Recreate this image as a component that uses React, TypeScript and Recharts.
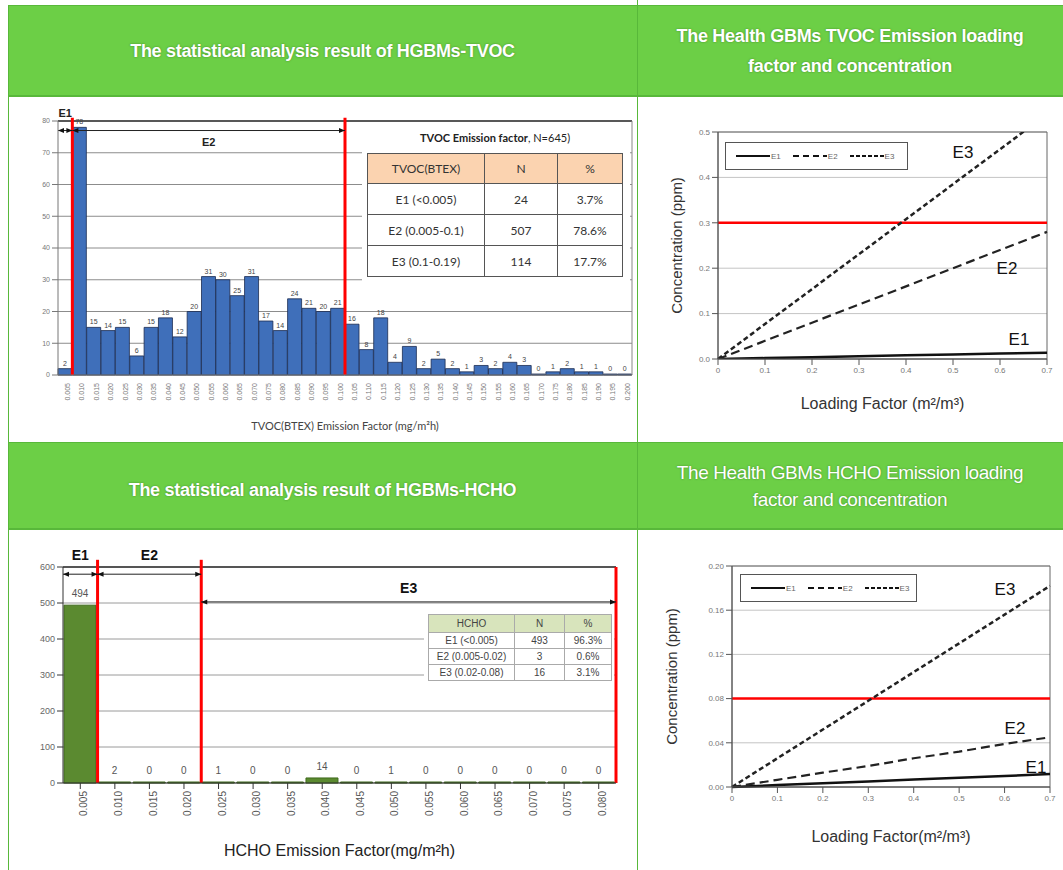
import React from "react";
import {
  BarChart,
  Bar,
  LineChart,
  Line,
  XAxis,
  YAxis,
  CartesianGrid,
  LabelList,
  ReferenceLine,
  ReferenceArea,
} from "recharts";

// TVOC histogram (emission factor bins, mg/m2h)
const tvocBins = [
  "0.005", "0.010", "0.015", "0.020", "0.025", "0.030", "0.035", "0.040", "0.045", "0.050",
  "0.055", "0.060", "0.065", "0.070", "0.075", "0.080", "0.085", "0.090", "0.095", "0.100",
  "0.105", "0.110", "0.115", "0.120", "0.125", "0.130", "0.135", "0.140", "0.145", "0.150",
  "0.155", "0.160", "0.165", "0.170", "0.175", "0.180", "0.185", "0.190", "0.195", "0.200",
];
const tvocCounts = [
  2, 78, 15, 14, 15, 6, 15, 18, 12, 20, 31, 30, 25, 31, 17, 14, 24, 21, 20, 21,
  16, 8, 18, 4, 9, 2, 5, 2, 1, 3, 2, 4, 3, 0, 1, 2, 1, 1, 0, 0,
];
const tvocTicks = [0, 10, 20, 30, 40, 50, 60, 70, 80];

// HCHO histogram
const hchoBins = [
  "0.005", "0.010", "0.015", "0.020", "0.025", "0.030", "0.035", "0.040",
  "0.045", "0.050", "0.055", "0.060", "0.065", "0.070", "0.075", "0.080",
];
const hchoCounts = [494, 2, 0, 0, 1, 0, 0, 14, 0, 1, 0, 0, 0, 0, 0, 0];
const hchoTicks = [0, 100, 200, 300, 400, 500, 600];

// loading factor vs concentration
const loading = [0, 0.1, 0.2, 0.3, 0.4, 0.5, 0.6, 0.7];
const tvocE1 = [0, 0.002, 0.004, 0.006, 0.008, 0.010, 0.012, 0.014];
const tvocE2 = [0, 0.04, 0.08, 0.12, 0.16, 0.20, 0.24, 0.28];
const tvocE3 = [0, 0.077, 0.154, 0.231, 0.308, 0.385, 0.462, 0.539];
const hchoE1 = [0, 0.0017, 0.0034, 0.005, 0.0067, 0.0084, 0.010, 0.0117];
const hchoE2 = [0, 0.0065, 0.013, 0.019, 0.026, 0.032, 0.039, 0.045];
const hchoE3 = [0, 0.026, 0.052, 0.078, 0.104, 0.130, 0.156, 0.182];
const loadTicks = [0, 0.1, 0.2, 0.3, 0.4, 0.5, 0.6, 0.7];
const tvocConcTicks = [0, 0.1, 0.2, 0.3, 0.4, 0.5];
const hchoConcTicks = [0, 0.04, 0.08, 0.12, 0.16, 0.2];

const tvocTable = [
  ["E1 (<0.005)", "24", "3.7%"],
  ["E2 (0.005-0.1)", "507", "78.6%"],
  ["E3 (0.1-0.19)", "114", "17.7%"],
];
const hchoTable = [
  ["E1 (<0.005)", "493", "96.3%"],
  ["E2 (0.005-0.02)", "3", "0.6%"],
  ["E3 (0.02-0.08)", "16", "3.1%"],
];

const tvocData = tvocBins.map((bin, i) => ({ bin, count: tvocCounts[i] }));
const hchoData = hchoBins.map((bin, i) => ({ bin, count: hchoCounts[i] }));
const tvocLoad = loading.map((lf, i) => ({ lf, e1: tvocE1[i], e2: tvocE2[i], e3: tvocE3[i] }));
const hchoLoad = loading.map((lf, i) => ({ lf, e1: hchoE1[i], e2: hchoE2[i], e3: hchoE3[i] }));

const GREEN = "#6ccf46";
const ARIAL = '"Liberation Sans", Arial, sans-serif';

// double headed arrow used for the E1/E2/E3 ranges
const Arrow = (p: any) => {
  const { x1, y1, x2, y2 } = p;
  const h = 2.5;
  return (
    <g>
      <line x1={x1} y1={y1} x2={x2} y2={y2} stroke="#222" strokeWidth={1} />
      <polygon points={`${x1},${y1} ${x1 + 6},${y1 - h} ${x1 + 6},${y1 + h}`} fill="#111" />
      <polygon points={`${x2},${y2} ${x2 - 6},${y2 - h} ${x2 - 6},${y2 + h}`} fill="#111" />
    </g>
  );
};

const fmtLoad = (v: number) => (v === 0 ? "0" : v.toFixed(1));

const Header = ({ left, top, width, height, lines, bold, size, pad }: any) => (
  <div
    style={{
      position: "absolute",
      left,
      top,
      width,
      height,
      background: GREEN,
      borderTop: "1px solid #58b83a",
      borderBottom: "2px solid #58b83a",
      boxSizing: "border-box",
      display: "flex",
      flexDirection: "column",
      alignItems: "center",
      justifyContent: "center",
      paddingTop: pad || 0,
      color: "#fff",
      fontFamily: ARIAL,
      fontWeight: bold ? 700 : 400,
      fontSize: size,
      lineHeight: bold ? "30px" : "27px",
      textShadow: "0 0 2px rgba(40,90,20,0.6)",
      letterSpacing: bold ? -0.3 : -0.4,
    }}
  >
    {lines.map((l: string) => (
      <div key={l}>{l}</div>
    ))}
  </div>
);

const LegendBox = ({ left, top, width }: any) => {
  const items = [
    { name: "E1", dash: undefined },
    { name: "E2", dash: "6 4" },
    { name: "E3", dash: "4 2" },
  ];
  return (
    <div
      style={{
        position: "absolute",
        left,
        top,
        width,
        height: 28,
        border: "1px solid #555",
        background: "#fff",
        boxSizing: "border-box",
        display: "flex",
        alignItems: "center",
        paddingLeft: 10,
        fontFamily: ARIAL,
        fontSize: 8,
        color: "#666",
      }}
    >
      {items.map((it) => (
        <div key={it.name} style={{ display: "flex", alignItems: "center", marginRight: 12 }}>
          <svg width={34} height={6}>
            <line x1={0} y1={3} x2={34} y2={3} stroke="#111" strokeWidth={2} strokeDasharray={it.dash} />
          </svg>
          <span style={{ marginLeft: 1 }}>{it.name}</span>
        </div>
      ))}
    </div>
  );
};

const Tag = ({ x, y, text, size }: any) => (
  <div
    style={{
      position: "absolute",
      left: x,
      top: y,
      transform: "translate(-50%, -50%)",
      fontFamily: ARIAL,
      fontSize: size || 17,
      color: "#111",
    }}
  >
    {text}
  </div>
);

export default function App() {
  const cell = (extra: any = {}) => ({
    border: "1px solid #555",
    textAlign: "center" as const,
    padding: 0,
    ...extra,
  });
  const hcell = (extra: any = {}) => ({
    border: "1px solid #aaa",
    textAlign: "center" as const,
    padding: 0,
    ...extra,
  });

  return (
    <div
      style={{
        position: "absolute",
        left: 0,
        top: 0,
        width: 1063,
        height: 870,
        background: "#fff",
        overflow: "hidden",
        fontFamily: ARIAL,
      }}
    >
      {/* header bands */}
      <Header left={8} top={5} width={629} height={92} bold size={18} lines={["The statistical analysis result of HGBMs-TVOC"]} />
      <Header left={637} top={5} width={426} height={92} bold size={18} lines={["The Health GBMs TVOC Emission loading", "factor and concentration"]} />
      <Header left={8} top={442} width={629} height={88} bold size={18} pad={9} lines={["The statistical analysis result of HGBMs-HCHO"]} />
      <Header left={637} top={442} width={426} height={88} size={19} lines={["The Health GBMs HCHO Emission loading", "factor and concentration"]} />
      <div style={{ position: "absolute", left: 8, top: 5, width: 1, height: 865, background: "#58b83a" }} />
      <div style={{ position: "absolute", left: 637, top: 0, width: 1, height: 870, background: "#58b83a" }} />

      {/* TVOC histogram */}
      <div style={{ position: "absolute", left: 10, top: 100 }}>
        <BarChart
          width={630}
          height={340}
          data={tvocData}
          margin={{ top: 21, right: 8, left: 18, bottom: 3 }}
          barCategoryGap={0}
        >
          <CartesianGrid vertical={false} stroke="#8c8c8c" />
          <XAxis
            dataKey="bin"
            interval={0}
            height={62}
            stroke="#777"
            tickLine={false}
            tick={{ fontSize: 7, fill: "#777", angle: -90, textAnchor: "end", verticalAnchor: "middle" } as any}
            label={{
              value: "TVOC(BTEX) Emission Factor (mg/m²h)",
              position: "insideBottom",
              offset: 7,
              style: { fontSize: 11, fill: "#444", fontFamily: "Lato, sans-serif" },
            }}
          />
          <YAxis
            domain={[0, 80]}
            ticks={tvocTicks}
            width={30}
            stroke="#777"
            tick={{ fontSize: 7, fill: "#777" }}
          />
          <ReferenceLine y={80} stroke="#333" strokeWidth={1.5} />
          <ReferenceLine x="0.200" position="end" stroke="#888" />
          <Bar
            dataKey="count"
            fill="#3f6fba"
            stroke="#1c2c52"
            strokeWidth={0.8}
            minPointSize={1}
            isAnimationActive={false}
          >
            <LabelList dataKey="count" position="top" offset={3} style={{ fontSize: 7, fill: "#444" }} />
          </Bar>
          <ReferenceLine
            segment={[{ x: "0.010", y: 0 }, { x: "0.010", y: 81 }]}
            position="start"
            ifOverflow="visible"
            stroke="#ff0000"
            strokeWidth={3}
          />
          <ReferenceLine
            segment={[{ x: "0.105", y: 0 }, { x: "0.105", y: 81 }]}
            position="start"
            ifOverflow="visible"
            stroke="#ff0000"
            strokeWidth={3}
          />
          <ReferenceLine
            segment={[{ x: "0.005", y: 77 }, { x: "0.010", y: 77 }]}
            position="start"
            shape={Arrow}
            label={{ value: "E1", position: "top", offset: 14, style: { fontSize: 11, fontWeight: 700, fill: "#222" } }}
          />
          <ReferenceLine
            segment={[{ x: "0.010", y: 77 }, { x: "0.105", y: 77 }]}
            position="start"
            shape={Arrow}
            label={{ value: "E2", position: "bottom", offset: 8, style: { fontSize: 11, fontWeight: 700, fill: "#222" } }}
          />
        </BarChart>
      </div>

      {/* TVOC table */}
      <div style={{ position: "absolute", left: 362, top: 123, width: 268, height: 160, background: "#fff" }} />
      <div
        style={{
          position: "absolute",
          left: 367,
          top: 131,
          width: 256,
          textAlign: "center",
          fontFamily: "Lato, sans-serif",
          fontSize: 11,
          color: "#222",
        }}
      >
        <b>TVOC Emission factor</b>, N=645)
      </div>
      <table
        style={{
          position: "absolute",
          left: 367,
          top: 153,
          width: 256,
          borderCollapse: "collapse",
          fontFamily: "Lato, sans-serif",
          fontSize: 12,
          color: "#333",
        }}
      >
        <tbody>
          <tr style={{ height: 30, background: "#fbd3b0" }}>
            <td style={cell({ width: 116 })}>TVOC(BTEX)</td>
            <td style={cell({ width: 72 })}>N</td>
            <td style={cell()}>%</td>
          </tr>
          {tvocTable.map((r) => (
            <tr key={r[0]} style={{ height: 31 }}>
              {r.map((c) => (
                <td key={c} style={cell()}>
                  {c}
                </td>
              ))}
            </tr>
          ))}
        </tbody>
      </table>

      {/* TVOC loading chart */}
      <div style={{ position: "absolute", left: 650, top: 110 }}>
        <LineChart width={410} height={310} data={tvocLoad} margin={{ top: 22, right: 13, left: 28, bottom: 6 }}>
          <CartesianGrid vertical={false} stroke="#c4c4c4" />
          <XAxis
            dataKey="lf"
            type="number"
            domain={[0, 0.7]}
            ticks={loadTicks}
            tickFormatter={fmtLoad}
            height={55}
            stroke="#555"
            tick={{ fontSize: 8, fill: "#777" }}
            label={{
              value: "Loading Factor (m²/m³)",
              position: "insideBottom",
              offset: 5,
              style: { fontSize: 16, fill: "#333" },
            }}
          />
          <YAxis
            type="number"
            domain={[0, 0.5]}
            ticks={tvocConcTicks}
            allowDataOverflow
            tickFormatter={(v: number) => v.toFixed(1)}
            width={40}
            stroke="#555"
            tick={{ fontSize: 8, fill: "#777" }}
            label={{
              value: "Concentration (ppm)",
              angle: -90,
              position: "center",
              dx: -21,
              style: { fontSize: 15, fill: "#333" },
            }}
          />
          <ReferenceArea x1={0} x2={0.7} y1={0} y2={0.5} fill="none" stroke="#666" />
          <ReferenceLine y={0.3} stroke="#ff0000" strokeWidth={2.5} />
          <Line dataKey="e1" stroke="#111" strokeWidth={2.5} dot={false} isAnimationActive={false} />
          <Line dataKey="e2" stroke="#222" strokeWidth={2.2} strokeDasharray="9 5" dot={false} isAnimationActive={false} />
          <Line dataKey="e3" stroke="#222" strokeWidth={2.5} strokeDasharray="5 3" dot={false} isAnimationActive={false} />
        </LineChart>
      </div>
      <LegendBox left={725} top={142} width={183} />
      <Tag x={963} y={153} text="E3" />
      <Tag x={1007} y={269} text="E2" />
      <Tag x={1019} y={340} text="E1" />

      {/* HCHO histogram */}
      <div style={{ position: "absolute", left: 10, top: 540 }}>
        <BarChart
          width={620}
          height={325}
          data={hchoData}
          margin={{ top: 27, right: 14, left: 13, bottom: 4 }}
          barCategoryGap="3%"
        >
          <CartesianGrid vertical={false} stroke="#9a9a9a" />
          <XAxis
            dataKey="bin"
            interval={0}
            height={78}
            stroke="#333"
            tick={{ fontSize: 10, fill: "#555", angle: -90, textAnchor: "end", verticalAnchor: "middle" } as any}
            label={{
              value: "HCHO Emission Factor(mg/m²h)",
              position: "insideBottom",
              offset: 5,
              style: { fontSize: 16, fill: "#222" },
            }}
          />
          <YAxis
            domain={[0, 600]}
            ticks={hchoTicks}
            width={40}
            stroke="#333"
            tick={{ fontSize: 9, fill: "#666" }}
          />
          <ReferenceLine y={600} stroke="#555" strokeWidth={2} />
          <Bar
            dataKey="count"
            fill="#5b8a30"
            stroke="#3f6a1c"
            strokeWidth={1}
            minPointSize={1}
            isAnimationActive={false}
          >
            <LabelList dataKey="count" position="top" offset={8} style={{ fontSize: 10, fill: "#555" }} />
          </Bar>
          <ReferenceLine
            segment={[{ x: "0.010", y: 0 }, { x: "0.010", y: 620 }]}
            position="start"
            ifOverflow="visible"
            stroke="#ff0000"
            strokeWidth={3}
          />
          <ReferenceLine
            segment={[{ x: "0.025", y: 0 }, { x: "0.025", y: 620 }]}
            position="start"
            ifOverflow="visible"
            stroke="#ff0000"
            strokeWidth={3}
          />
          <ReferenceLine
            segment={[{ x: "0.080", y: 0 }, { x: "0.080", y: 600 }]}
            position="end"
            ifOverflow="visible"
            stroke="#ff0000"
            strokeWidth={3}
          />
          <ReferenceLine
            segment={[{ x: "0.005", y: 580 }, { x: "0.010", y: 580 }]}
            position="start"
            shape={Arrow}
            label={{ value: "E1", position: "top", offset: 14, style: { fontSize: 14, fontWeight: 700, fill: "#111" } }}
          />
          <ReferenceLine
            segment={[{ x: "0.010", y: 580 }, { x: "0.025", y: 580 }]}
            position="start"
            shape={Arrow}
            label={{ value: "E2", position: "top", offset: 14, style: { fontSize: 14, fontWeight: 700, fill: "#111" } }}
          />
          <ReferenceLine
            segment={[{ x: "0.020", y: 503 }, { x: "0.080", y: 503 }]}
            position="end"
            shape={Arrow}
            label={{ value: "E3", position: "top", offset: 9, style: { fontSize: 14, fontWeight: 700, fill: "#111" } }}
          />
        </BarChart>
      </div>

      {/* HCHO table */}
      <div style={{ position: "absolute", left: 424, top: 608, width: 190, height: 78, background: "#fff" }} />
      <table
        style={{
          position: "absolute",
          left: 428,
          top: 614,
          width: 184,
          borderCollapse: "collapse",
          fontFamily: ARIAL,
          fontSize: 10,
          color: "#444",
        }}
      >
        <tbody>
          <tr style={{ height: 18, background: "#d8e4bc" }}>
            <td style={hcell({ width: 85 })}>HCHO</td>
            <td style={hcell({ width: 49 })}>N</td>
            <td style={hcell()}>%</td>
          </tr>
          {hchoTable.map((r) => (
            <tr key={r[0]} style={{ height: 16 }}>
              {r.map((c) => (
                <td key={c} style={hcell()}>
                  {c}
                </td>
              ))}
            </tr>
          ))}
        </tbody>
      </table>

      {/* HCHO loading chart */}
      <div style={{ position: "absolute", left: 650, top: 540 }}>
        <LineChart width={413} height={325} data={hchoLoad} margin={{ top: 26, right: 13, left: 42, bottom: 18 }}>
          <CartesianGrid vertical={false} stroke="#c4c4c4" />
          <XAxis
            dataKey="lf"
            type="number"
            domain={[0, 0.7]}
            ticks={loadTicks}
            tickFormatter={fmtLoad}
            height={60}
            stroke="#555"
            tick={{ fontSize: 8, fill: "#777" }}
            label={{
              value: "Loading Factor(m²/m³)",
              position: "insideBottom",
              offset: 5,
              style: { fontSize: 16, fill: "#333" },
            }}
          />
          <YAxis
            type="number"
            domain={[0, 0.2]}
            ticks={hchoConcTicks}
            tickFormatter={(v: number) => v.toFixed(2)}
            width={40}
            stroke="#555"
            tick={{ fontSize: 8, fill: "#777" }}
            label={{
              value: "Concentration (ppm)",
              angle: -90,
              position: "center",
              dx: -40,
              style: { fontSize: 15, fill: "#333" },
            }}
          />
          <ReferenceArea x1={0} x2={0.7} y1={0} y2={0.2} fill="none" stroke="#666" />
          <ReferenceLine y={0.08} stroke="#ff0000" strokeWidth={2.5} />
          <Line dataKey="e1" stroke="#111" strokeWidth={2.5} dot={false} isAnimationActive={false} />
          <Line dataKey="e2" stroke="#222" strokeWidth={2.2} strokeDasharray="9 5" dot={false} isAnimationActive={false} />
          <Line dataKey="e3" stroke="#222" strokeWidth={2.5} strokeDasharray="5 3" dot={false} isAnimationActive={false} />
        </LineChart>
      </div>
      <LegendBox left={740} top={574} width={177} />
      <Tag x={1005} y={590} text="E3" />
      <Tag x={1015} y={729} text="E2" />
      <Tag x={1036} y={768} text="E1" />
    </div>
  );
}
